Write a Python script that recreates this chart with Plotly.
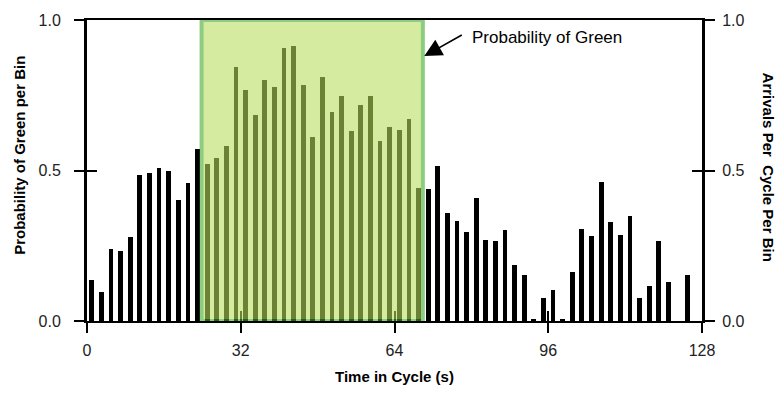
import plotly.graph_objects as go

# Data
bin_centers = list(range(1, 128, 2))
arrivals = [0.135, 0.097, 0.240, 0.233, 0.278, 0.484, 0.491, 0.508, 0.500, 0.402,
            0.457, 0.573, 0.520, 0.542, 0.581, 0.844, 0.767, 0.685, 0.800, 0.776,
            0.907, 0.914, 0.783, 0.612, 0.810, 0.694, 0.747, 0.631, 0.717, 0.747,
            0.597, 0.646, 0.636, 0.670, 0.441, 0.437, 0.515, 0.360, 0.333, 0.297,
            0.407, 0.270, 0.265, 0.302, 0.185, 0.154, 0.007, 0.078, 0.104, 0.007,
            0.162, 0.305, 0.281, 0.461, 0.329, 0.285, 0.348, 0.077, 0.116, 0.267,
            0.130, 0.0, 0.154, 0.0]
green_start = 23.85
green_end = 69.9
green_prob = 1.0
x_ticks = [0, 32, 64, 96, 128]
y_ticks = [0, 0.5, 1.0]
y_tick_text = ["0.0", "0.5", "1.0"]

FONT = "Liberation Sans, Arial, sans-serif"
W, H = 780, 393
ML, MR, MT, MB = 87, 78, 13, 72
PW, PH = W - ML - MR, H - MT - MB

def px_x(p):
    return (p - ML) / PW

def px_y(p):
    return (H - MB - p) / PH

fig = go.Figure()
fig.add_trace(go.Bar(x=bin_centers, y=arrivals, width=1.0,
                     marker=dict(color="black", line=dict(width=0)),
                     showlegend=False, hoverinfo="skip"))
# helper traces to activate extra tick axes
fig.add_trace(go.Scatter(x=[None], y=[None], xaxis="x2", yaxis="y3", showlegend=False))
fig.add_trace(go.Scatter(x=[None], y=[None], xaxis="x", yaxis="y2", showlegend=False))
fig.add_trace(go.Scatter(x=[None], y=[None], xaxis="x", yaxis="y4", showlegend=False))

tickfont = dict(family=FONT, size=16, color="#222")
common_y = dict(range=[0, 1], tickvals=y_ticks, ticktext=y_tick_text,
                showgrid=False, zeroline=False, fixedrange=True)

fig.update_layout(
    width=W, height=H,
    margin=dict(l=ML, r=MR, t=MT, b=MB, pad=0),
    paper_bgcolor="white", plot_bgcolor="white",
    bargap=0,
    xaxis=dict(range=[0, 128], tickvals=x_ticks, showgrid=False, zeroline=False,
               showline=True, linecolor="black", linewidth=2, mirror=True,
               ticks="outside", ticklen=10, tickwidth=1.5, tickcolor="black",
               tickfont=tickfont, ticklabelstandoff=4),
    xaxis2=dict(range=[0, 128], tickvals=x_ticks, overlaying="x", anchor="y", side="bottom",
                showgrid=False, zeroline=False, showline=False, showticklabels=False,
                ticks="inside", ticklen=10, tickwidth=1.5, tickcolor="black"),
    yaxis=dict(**common_y, showline=True, linecolor="black", linewidth=3,
               ticks="outside", ticklen=10, tickwidth=1.5, tickcolor="black",
               tickfont=tickfont, ticklabelstandoff=10),
    yaxis2=dict(**common_y, overlaying="y", side="right", anchor="x",
                showline=True, linecolor="black", linewidth=3,
                ticks="outside", ticklen=10, tickwidth=1.5, tickcolor="black",
                tickfont=tickfont, ticklabelstandoff=4),
    yaxis3=dict(**common_y, overlaying="y", side="left", anchor="x2",
                showline=False, showticklabels=False,
                ticks="inside", ticklen=10, tickwidth=1.5, tickcolor="black"),
    yaxis4=dict(**common_y, overlaying="y", side="right", anchor="x",
                showline=False, showticklabels=False,
                ticks="inside", ticklen=10, tickwidth=1.5, tickcolor="black"),
)

fig.add_shape(type="rect", xref="x", yref="y", x0=green_start, x1=green_end,
              y0=0, y1=green_prob, layer="above", opacity=0.58,
              fillcolor="rgb(184,224,92)", line=dict(color="rgb(60,168,40)", width=4))

title_font = dict(family=FONT, size=15, color="black")
fig.add_annotation(text="<b>Probability of Green per Bin</b>", xref="paper", yref="paper",
                   x=px_x(20), y=px_y(152), textangle=-90, showarrow=False,
                   font=title_font, xanchor="center", yanchor="middle")
fig.add_annotation(text="<b>Arrivals Per  Cycle Per Bin</b>", xref="paper", yref="paper",
                   x=px_x(768), y=px_y(163), textangle=90, showarrow=False,
                   font=title_font, xanchor="center", yanchor="middle")
fig.add_annotation(text="<b>Time in Cycle (s)</b>", xref="paper", yref="paper",
                   x=px_x(394), y=px_y(377.5), showarrow=False,
                   font=title_font, xanchor="center", yanchor="middle")
fig.add_annotation(text="Probability of Green", xref="x", yref="y",
                   x=79.7, y=0.9416, showarrow=False, xanchor="left", yanchor="middle",
                   font=dict(family=FONT, size=17, color="black"))
fig.add_annotation(text="", xref="x", yref="y", x=green_end + 0.3, y=0.88,
                   showarrow=True, ax=39, ay=-22, arrowhead=2, arrowsize=2.2,
                   arrowwidth=1.6, arrowcolor="black", standoff=0)

fig.write_html("out.html")
